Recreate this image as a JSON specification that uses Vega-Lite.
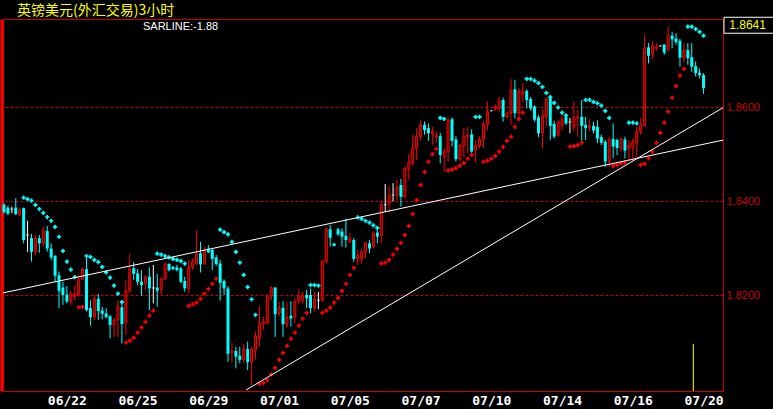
{
"$schema":"https://vega.github.io/schema/vega-lite/v6.json",
"width":720,"height":372,
"autosize":{"type":"none"},
"padding":{"left":3,"top":19,"right":50,"bottom":18},
"background":"#000000",
"config":{"view":{"stroke":"#c80000","strokeWidth":1,"fill":"#000000"}},
"resolve":{"axis":{"x":"independent","y":"independent"}},
"datasets":{
"k":[
{"i":1,"o":1.8393,"h":1.8397,"l":1.8374,"c":1.8377},
{"i":2,"o":1.8387,"h":1.8391,"l":1.8371,"c":1.8374},
{"i":3,"o":1.8384,"h":1.8389,"l":1.8375,"c":1.8384},
{"i":4,"o":1.8387,"h":1.8407,"l":1.8371,"c":1.8373},
{"i":5,"o":1.8371,"h":1.8387,"l":1.8368,"c":1.8382},
{"i":6,"o":1.8386,"h":1.8387,"l":1.8311,"c":1.8318,"s":1.8408},
{"i":7,"o":1.8329,"h":1.8359,"l":1.8293,"c":1.8329,"s":1.8405},
{"i":8,"o":1.8322,"h":1.8331,"l":1.8272,"c":1.8293,"s":1.8402},
{"i":9,"o":1.8293,"h":1.8329,"l":1.8286,"c":1.8322,"s":1.8393},
{"i":10,"o":1.8322,"h":1.8329,"l":1.8291,"c":1.8311,"s":1.8384},
{"i":11,"o":1.8311,"h":1.8346,"l":1.8304,"c":1.8337,"s":1.8376},
{"i":12,"o":1.8337,"h":1.8348,"l":1.8293,"c":1.83,"s":1.8367},
{"i":13,"o":1.83,"h":1.8311,"l":1.8276,"c":1.8281,"s":1.8359},
{"i":14,"o":1.8284,"h":1.8286,"l":1.8229,"c":1.8242,"s":1.8346},
{"i":15,"o":1.8243,"h":1.8251,"l":1.8173,"c":1.821,"s":1.8325},
{"i":16,"o":1.8217,"h":1.8229,"l":1.818,"c":1.8201,"s":1.8295},
{"i":17,"o":1.8202,"h":1.822,"l":1.8183,"c":1.8187,"s":1.8272},
{"i":18,"o":1.8187,"h":1.821,"l":1.818,"c":1.8203,"s":1.8255},
{"i":19,"o":1.8197,"h":1.822,"l":1.819,"c":1.8203,"s":1.8239},
{"i":20,"o":1.8201,"h":1.8243,"l":1.8197,"c":1.8235,"s":1.8175},
{"i":21,"o":1.8235,"h":1.826,"l":1.8233,"c":1.8256,"s":1.8176},
{"i":22,"o":1.8256,"h":1.8286,"l":1.8166,"c":1.8169,"s":1.8284},
{"i":23,"o":1.8173,"h":1.819,"l":1.8136,"c":1.8154,"s":1.8282},
{"i":24,"o":1.8154,"h":1.8201,"l":1.8148,"c":1.8193,"s":1.8276},
{"i":25,"o":1.8193,"h":1.8203,"l":1.8148,"c":1.8167,"s":1.8271},
{"i":26,"o":1.8168,"h":1.8176,"l":1.8149,"c":1.8161,"s":1.8261},
{"i":27,"o":1.8162,"h":1.8173,"l":1.8151,"c":1.8154,"s":1.8249},
{"i":28,"o":1.8156,"h":1.8159,"l":1.8109,"c":1.8137,"s":1.8238},
{"i":29,"o":1.8137,"h":1.8153,"l":1.8112,"c":1.8148,"s":1.8221},
{"i":30,"o":1.8148,"h":1.819,"l":1.8112,"c":1.8177,"s":1.8204},
{"i":31,"o":1.8175,"h":1.8187,"l":1.8098,"c":1.8139,"s":1.8186},
{"i":32,"o":1.8142,"h":1.8233,"l":1.8116,"c":1.821,"s":1.81},
{"i":33,"o":1.821,"h":1.8288,"l":1.8205,"c":1.8256,"s":1.8104},
{"i":34,"o":1.8258,"h":1.8271,"l":1.8233,"c":1.8246,"s":1.811},
{"i":35,"o":1.8247,"h":1.8256,"l":1.8222,"c":1.8229,"s":1.8121},
{"i":36,"o":1.8229,"h":1.8254,"l":1.8199,"c":1.8222,"s":1.8132},
{"i":37,"o":1.8226,"h":1.8243,"l":1.8212,"c":1.824,"s":1.8144},
{"i":38,"o":1.824,"h":1.826,"l":1.8169,"c":1.8215,"s":1.8157},
{"i":39,"o":1.8216,"h":1.8265,"l":1.8183,"c":1.8216,"s":1.8168},
{"i":40,"o":1.8217,"h":1.8246,"l":1.8176,"c":1.821,"s":1.8289},
{"i":41,"o":1.8212,"h":1.8239,"l":1.8201,"c":1.8235,"s":1.8287},
{"i":42,"o":1.8235,"h":1.8269,"l":1.8233,"c":1.8267,"s":1.8284},
{"i":43,"o":1.8267,"h":1.8269,"l":1.8251,"c":1.8254,"s":1.8281},
{"i":44,"o":1.8261,"h":1.8263,"l":1.8254,"c":1.8256,"s":1.8278},
{"i":45,"o":1.826,"h":1.8265,"l":1.8251,"c":1.8254,"s":1.8276},
{"i":46,"o":1.8258,"h":1.8261,"l":1.8226,"c":1.8229,"s":1.8273},
{"i":47,"o":1.8231,"h":1.824,"l":1.8208,"c":1.8215,"s":1.8268},
{"i":48,"o":1.8215,"h":1.8276,"l":1.8205,"c":1.826,"s":1.8178},
{"i":49,"o":1.826,"h":1.8279,"l":1.8254,"c":1.8272,"s":1.8181},
{"i":50,"o":1.8268,"h":1.8339,"l":1.8265,"c":1.8288,"s":1.8185},
{"i":51,"o":1.829,"h":1.8314,"l":1.8249,"c":1.8266,"s":1.8193},
{"i":52,"o":1.8268,"h":1.8303,"l":1.8265,"c":1.8297,"s":1.8204},
{"i":53,"o":1.83,"h":1.8307,"l":1.829,"c":1.8292,"s":1.8214},
{"i":54,"o":1.8297,"h":1.83,"l":1.8254,"c":1.8278,"s":1.8225},
{"i":55,"o":1.8281,"h":1.8286,"l":1.8263,"c":1.8267,"s":1.8236},
{"i":56,"o":1.8268,"h":1.8276,"l":1.8189,"c":1.8227,"s":1.834},
{"i":57,"o":1.8231,"h":1.8234,"l":1.8201,"c":1.8215,"s":1.8335},
{"i":58,"o":1.8215,"h":1.822,"l":1.8059,"c":1.8076,"s":1.833},
{"i":59,"o":1.8079,"h":1.81,"l":1.8057,"c":1.8082,"s":1.8314},
{"i":60,"o":1.8082,"h":1.8091,"l":1.8045,"c":1.807,"s":1.8293},
{"i":61,"o":1.8072,"h":1.8091,"l":1.8056,"c":1.8063,"s":1.827},
{"i":62,"o":1.8063,"h":1.8097,"l":1.8056,"c":1.8086,"s":1.8244},
{"i":63,"o":1.8086,"h":1.8102,"l":1.8041,"c":1.8058,"s":1.8218},
{"i":64,"o":1.8058,"h":1.8091,"l":1.801,"c":1.8086,"s":1.8192},
{"i":65,"o":1.8084,"h":1.8123,"l":1.8064,"c":1.8114,"s":1.8159},
{"i":66,"o":1.8109,"h":1.8178,"l":1.8091,"c":1.8141,"s":1.8012},
{"i":67,"o":1.8139,"h":1.8155,"l":1.8127,"c":1.8143,"s":1.8014},
{"i":68,"o":1.8141,"h":1.8202,"l":1.814,"c":1.8199,"s":1.802},
{"i":69,"o":1.8199,"h":1.8219,"l":1.819,"c":1.8217,"s":1.8032},
{"i":70,"o":1.8217,"h":1.8218,"l":1.8112,"c":1.816,"s":1.8046},
{"i":71,"o":1.8162,"h":1.8187,"l":1.8155,"c":1.8174,"s":1.8063},
{"i":72,"o":1.8174,"h":1.8188,"l":1.8112,"c":1.8139,"s":1.8078},
{"i":73,"o":1.8137,"h":1.8186,"l":1.8131,"c":1.8154,"s":1.8093},
{"i":74,"o":1.8157,"h":1.8188,"l":1.8134,"c":1.8151,"s":1.8108},
{"i":75,"o":1.8154,"h":1.8193,"l":1.8141,"c":1.8186,"s":1.8121},
{"i":76,"o":1.8186,"h":1.8213,"l":1.8183,"c":1.8199,"s":1.8136},
{"i":77,"o":1.819,"h":1.8208,"l":1.8183,"c":1.8199,"s":1.8151},
{"i":78,"o":1.8201,"h":1.8212,"l":1.8173,"c":1.8194,"s":1.8163},
{"i":79,"o":1.8201,"h":1.8215,"l":1.8162,"c":1.8173,"s":1.8222},
{"i":80,"o":1.8173,"h":1.8208,"l":1.8166,"c":1.8192,"s":1.8222},
{"i":81,"o":1.819,"h":1.8208,"l":1.8171,"c":1.819,"s":1.8221},
{"i":82,"o":1.819,"h":1.8276,"l":1.8187,"c":1.8273,"s":1.8163},
{"i":83,"o":1.8272,"h":1.8346,"l":1.8268,"c":1.8341,"s":1.8168},
{"i":84,"o":1.8341,"h":1.835,"l":1.8304,"c":1.8323,"s":1.8174},
{"i":85,"o":1.8311,"h":1.8312,"l":1.8305,"c":1.8305,"s":1.8185},
{"i":86,"o":1.8341,"h":1.8344,"l":1.8327,"c":1.833,"s":1.8195},
{"i":87,"o":1.8336,"h":1.8343,"l":1.8304,"c":1.8325,"s":1.821},
{"i":88,"o":1.8327,"h":1.8364,"l":1.8302,"c":1.8318,"s":1.8225},
{"i":89,"o":1.8314,"h":1.8334,"l":1.8311,"c":1.8322,"s":1.8244},
{"i":90,"o":1.8318,"h":1.8322,"l":1.8272,"c":1.8278,"s":1.8259},
{"i":91,"o":1.8278,"h":1.8297,"l":1.8265,"c":1.8285,"s":1.8366},
{"i":92,"o":1.8278,"h":1.83,"l":1.8268,"c":1.8292,"s":1.8363},
{"i":93,"o":1.8292,"h":1.8314,"l":1.8279,"c":1.8312,"s":1.8359},
{"i":94,"o":1.8311,"h":1.8318,"l":1.829,"c":1.83,"s":1.8355},
{"i":95,"o":1.8304,"h":1.8336,"l":1.83,"c":1.8332,"s":1.8349},
{"i":96,"o":1.8334,"h":1.8348,"l":1.8311,"c":1.8325,"s":1.8344},
{"i":97,"o":1.8327,"h":1.84,"l":1.8311,"c":1.8393,"s":1.8268},
{"i":98,"o":1.8393,"h":1.8437,"l":1.8378,"c":1.8393,"s":1.827},
{"i":99,"o":1.8396,"h":1.8432,"l":1.8378,"c":1.8412,"s":1.8276},
{"i":100,"o":1.8414,"h":1.8439,"l":1.84,"c":1.8414,"s":1.8287},
{"i":101,"o":1.8414,"h":1.8446,"l":1.8403,"c":1.843,"s":1.8299},
{"i":102,"o":1.8435,"h":1.8448,"l":1.8389,"c":1.841,"s":1.8312},
{"i":103,"o":1.841,"h":1.8473,"l":1.8407,"c":1.8471,"s":1.8329},
{"i":104,"o":1.8469,"h":1.8501,"l":1.8446,"c":1.8483,"s":1.8348},
{"i":105,"o":1.8481,"h":1.8542,"l":1.8476,"c":1.8514,"s":1.8373},
{"i":106,"o":1.8513,"h":1.8556,"l":1.8488,"c":1.8539,"s":1.8403},
{"i":107,"o":1.8538,"h":1.8573,"l":1.8531,"c":1.8563,"s":1.8435},
{"i":108,"o":1.8563,"h":1.857,"l":1.8542,"c":1.8552,"s":1.8463},
{"i":109,"o":1.8556,"h":1.8566,"l":1.8529,"c":1.8545,"s":1.8485},
{"i":110,"o":1.8544,"h":1.8559,"l":1.852,"c":1.8549,"s":1.8501},
{"i":111,"o":1.8537,"h":1.8549,"l":1.8524,"c":1.8541,"s":1.8512},
{"i":112,"o":1.8539,"h":1.8546,"l":1.8481,"c":1.8499,"s":1.8578},
{"i":113,"o":1.8495,"h":1.8513,"l":1.8463,"c":1.8506,"s":1.8576},
{"i":114,"o":1.8506,"h":1.858,"l":1.8485,"c":1.8573,"s":1.8466},
{"i":115,"o":1.8575,"h":1.8579,"l":1.8517,"c":1.8529,"s":1.8468},
{"i":116,"o":1.8532,"h":1.8539,"l":1.8485,"c":1.849,"s":1.8471},
{"i":117,"o":1.849,"h":1.8522,"l":1.8485,"c":1.852,"s":1.8476},
{"i":118,"o":1.8519,"h":1.8556,"l":1.8495,"c":1.8539,"s":1.8482},
{"i":119,"o":1.8537,"h":1.8559,"l":1.8503,"c":1.8541,"s":1.8491},
{"i":120,"o":1.8543,"h":1.8554,"l":1.8497,"c":1.8506,"s":1.8499},
{"i":121,"o":1.851,"h":1.8531,"l":1.8483,"c":1.852,"s":1.858},
{"i":122,"o":1.8519,"h":1.8539,"l":1.8513,"c":1.8532,"s":1.858},
{"i":123,"o":1.8532,"h":1.857,"l":1.8513,"c":1.8564,"s":1.8485},
{"i":124,"o":1.8564,"h":1.8612,"l":1.8552,"c":1.8591,"s":1.8487},
{"i":125,"o":1.8593,"h":1.8594,"l":1.8592,"c":1.8593,"s":1.8491},
{"i":126,"o":1.8596,"h":1.8607,"l":1.8593,"c":1.8602,"s":1.8497},
{"i":127,"o":1.8598,"h":1.8623,"l":1.8591,"c":1.8614,"s":1.8506},
{"i":128,"o":1.8616,"h":1.8621,"l":1.857,"c":1.858,"s":1.8516},
{"i":129,"o":1.858,"h":1.859,"l":1.8578,"c":1.8588,"s":1.8529},
{"i":130,"o":1.8588,"h":1.8661,"l":1.8563,"c":1.8637,"s":1.8538},
{"i":131,"o":1.8639,"h":1.8659,"l":1.8577,"c":1.8588,"s":1.8559},
{"i":132,"o":1.8588,"h":1.8642,"l":1.858,"c":1.8634,"s":1.8576},
{"i":133,"o":1.8628,"h":1.8652,"l":1.8612,"c":1.8635,"s":1.8589},
{"i":134,"o":1.8635,"h":1.8639,"l":1.8598,"c":1.8616,"s":1.8661},
{"i":135,"o":1.8618,"h":1.8622,"l":1.8593,"c":1.8598,"s":1.8661},
{"i":136,"o":1.8602,"h":1.8605,"l":1.857,"c":1.8574,"s":1.8657},
{"i":137,"o":1.8579,"h":1.8584,"l":1.8537,"c":1.8545,"s":1.8652},
{"i":138,"o":1.8546,"h":1.8596,"l":1.8513,"c":1.8582,"s":1.8644},
{"i":139,"o":1.8579,"h":1.8622,"l":1.8559,"c":1.8618,"s":1.8631},
{"i":140,"o":1.862,"h":1.8624,"l":1.8531,"c":1.8561,"s":1.8622},
{"i":141,"o":1.8565,"h":1.8572,"l":1.8534,"c":1.8538,"s":1.861},
{"i":142,"o":1.8541,"h":1.8573,"l":1.8538,"c":1.8568,"s":1.86},
{"i":143,"o":1.8563,"h":1.8589,"l":1.8552,"c":1.8575,"s":1.8589},
{"i":144,"o":1.858,"h":1.8586,"l":1.8563,"c":1.8566,"s":1.8583},
{"i":145,"o":1.8569,"h":1.8578,"l":1.8545,"c":1.8569,"s":1.8517},
{"i":146,"o":1.8559,"h":1.8612,"l":1.8549,"c":1.8579,"s":1.8518},
{"i":147,"o":1.8577,"h":1.8595,"l":1.8538,"c":1.858,"s":1.852},
{"i":148,"o":1.858,"h":1.8616,"l":1.8527,"c":1.8561,"s":1.8525},
{"i":149,"o":1.8563,"h":1.858,"l":1.8531,"c":1.8556,"s":1.8616},
{"i":150,"o":1.8558,"h":1.8575,"l":1.8549,"c":1.8561,"s":1.8616},
{"i":151,"o":1.8561,"h":1.857,"l":1.8545,"c":1.8551,"s":1.8612},
{"i":152,"o":1.8559,"h":1.8573,"l":1.8524,"c":1.8534,"s":1.8609},
{"i":153,"o":1.8537,"h":1.8542,"l":1.852,"c":1.8525,"s":1.8604},
{"i":154,"o":1.8527,"h":1.8531,"l":1.8474,"c":1.8485,"s":1.8593},
{"i":155,"o":1.8485,"h":1.8538,"l":1.8474,"c":1.8531,"s":1.8578},
{"i":156,"o":1.8533,"h":1.8566,"l":1.8492,"c":1.8517,"s":1.8476},
{"i":157,"o":1.8531,"h":1.8534,"l":1.8499,"c":1.8514,"s":1.8478},
{"i":158,"o":1.8513,"h":1.8537,"l":1.8506,"c":1.8532,"s":1.8481},
{"i":159,"o":1.8532,"h":1.8538,"l":1.8492,"c":1.8508,"s":1.8483},
{"i":160,"o":1.8513,"h":1.8531,"l":1.8485,"c":1.852,"s":1.8568},
{"i":161,"o":1.8515,"h":1.8534,"l":1.8485,"c":1.8527,"s":1.8568},
{"i":162,"o":1.8525,"h":1.8559,"l":1.8492,"c":1.8549,"s":1.8566},
{"i":163,"o":1.8549,"h":1.8577,"l":1.8542,"c":1.8563,"s":1.8478},
{"i":164,"o":1.8561,"h":1.8754,"l":1.8559,"c":1.8726,"s":1.848},
{"i":165,"o":1.8728,"h":1.8737,"l":1.8694,"c":1.871,"s":1.8492},
{"i":166,"o":1.8712,"h":1.8741,"l":1.8703,"c":1.8731,"s":1.8506},
{"i":167,"o":1.8726,"h":1.8737,"l":1.872,"c":1.8729,"s":1.8525},
{"i":168,"o":1.8731,"h":1.8732,"l":1.873,"c":1.8731,"s":1.8546},
{"i":169,"o":1.8734,"h":1.8734,"l":1.8712,"c":1.8717,"s":1.8568},
{"i":170,"o":1.8724,"h":1.8771,"l":1.8719,"c":1.8753,"s":1.8591},
{"i":171,"o":1.8753,"h":1.8761,"l":1.8726,"c":1.8745,"s":1.8621},
{"i":172,"o":1.8747,"h":1.8758,"l":1.8734,"c":1.8739,"s":1.8646},
{"i":173,"o":1.8742,"h":1.8746,"l":1.8687,"c":1.8706,"s":1.8668},
{"i":174,"o":1.8705,"h":1.8737,"l":1.8695,"c":1.8722,"s":1.8682},
{"i":175,"o":1.8722,"h":1.8737,"l":1.8691,"c":1.8705,"s":1.8772},
{"i":176,"o":1.8707,"h":1.8737,"l":1.8676,"c":1.8687,"s":1.8772},
{"i":177,"o":1.8688,"h":1.8698,"l":1.8666,"c":1.8673,"s":1.8767},
{"i":178,"o":1.8674,"h":1.8683,"l":1.8662,"c":1.8669,"s":1.8761},
{"i":179,"o":1.8669,"h":1.8673,"l":1.8629,"c":1.8641,"s":1.8753}
],
"trend":[
{"x1":0.75,"p1":1.82055,"x2":183.95,"p2":1.85306},
{"x1":62.58,"p1":1.79989,"x2":183.95,"p2":1.85996}
],
"marker":[{"i":176.4,"top":1.8097,"bot":1.79968}],
"last":[{"i":179,"c":1.8641}],
"labels":[{"t":"SARLINE:-1.88"}],
"titles":[{"t":"英镑美元(外汇交易)3小时"}]
},
"layer":[
{"data":{"name":"k"},
 "mark":{"type":"rule","strokeWidth":1},
 "encoding":{
  "x":{"field":"i","type":"quantitative","scale":{"domain":[0.75,183.95],"nice":false,"zero":false,"padding":0},
   "axis":{"values":[17,35,53,71,89,107,125,143,161,179],"labelExpr":"['06/22','06/25','06/29','07/01','07/05','07/07','07/10','07/14','07/16','07/20'][round((datum.value-17)/18)]","domain":false,"ticks":false,"grid":false,"title":null,"labelColor":"#ffffff","labelFont":"DejaVu Sans Mono","labelFontSize":13,"labelFontWeight":"bold","labelPadding":3,"labelFlush":false,"labelOverlap":false}},
  "y":{"field":"l","type":"quantitative","scale":{"domain":[1.79968,1.87883],"nice":false,"zero":false,"padding":0},
   "axis":{"orient":"right","values":[1.82,1.84,1.86],"format":".4f","grid":true,"gridColor":"#c80000","gridOpacity":1,"gridDash":[3,2],"gridWidth":1,"ticks":false,"domain":false,"title":null,"labelColor":"#c80000","labelFont":"Liberation Sans","labelFontSize":11,"labelPadding":3}},
  "y2":{"field":"h"},
  "color":{"condition":[{"test":"datum.c > datum.o","value":"#ff0000"},{"test":"datum.c == datum.o","value":"#ffffff"}],"value":"#00ffff"}
 }},
{"data":{"name":"k"},
 "transform":[{"filter":"datum.c < datum.o"}],
 "mark":{"type":"bar","size":3,"fill":"#00ffff"},
 "encoding":{
  "x":{"field":"i","type":"quantitative","scale":{"domain":[0.75,183.95],"nice":false,"zero":false,"padding":0},"axis":null},
  "y":{"field":"o","type":"quantitative","scale":{"domain":[1.79968,1.87883],"nice":false,"zero":false,"padding":0},"axis":null},
  "y2":{"field":"c"}
 }},
{"data":{"name":"k"},
 "transform":[{"filter":"datum.c > datum.o"}],
 "mark":{"type":"bar","size":2,"fill":"#500000","stroke":"#ff0000","strokeWidth":1},
 "encoding":{
  "x":{"field":"i","type":"quantitative","scale":{"domain":[0.75,183.95],"nice":false,"zero":false,"padding":0},"axis":null},
  "y":{"field":"o","type":"quantitative","scale":{"domain":[1.79968,1.87883],"nice":false,"zero":false,"padding":0},"axis":null},
  "y2":{"field":"c"}
 }},
{"data":{"name":"k"},
 "transform":[{"filter":"datum.c == datum.o"}],
 "mark":{"type":"tick","orient":"horizontal","size":3,"thickness":1,"color":"#ffffff"},
 "encoding":{
  "x":{"field":"i","type":"quantitative","scale":{"domain":[0.75,183.95],"nice":false,"zero":false,"padding":0},"axis":null},
  "y":{"field":"o","type":"quantitative","scale":{"domain":[1.79968,1.87883],"nice":false,"zero":false,"padding":0},"axis":null}
 }},
{"data":{"name":"k"},
 "transform":[{"filter":"isValid(datum.s)"}],
 "mark":{"type":"point","shape":"cross","filled":true,"size":18,"opacity":1},
 "encoding":{
  "x":{"field":"i","type":"quantitative","scale":{"domain":[0.75,183.95],"nice":false,"zero":false,"padding":0},"axis":null},
  "y":{"field":"s","type":"quantitative","scale":{"domain":[1.79968,1.87883],"nice":false,"zero":false,"padding":0},"axis":null},
  "color":{"condition":{"test":"datum.s < (datum.h + datum.l) / 2","value":"#ff0000"},"value":"#00ffff"}
 }},
{"data":{"name":"trend"},
 "mark":{"type":"rule","color":"#ffffff","strokeWidth":1},
 "encoding":{
  "x":{"field":"x1","type":"quantitative","scale":{"domain":[0.75,183.95],"nice":false,"zero":false,"padding":0},"axis":null},
  "x2":{"field":"x2"},
  "y":{"field":"p1","type":"quantitative","scale":{"domain":[1.79968,1.87883],"nice":false,"zero":false,"padding":0},
   "axis":{"orient":"left","domain":true,"domainColor":"#ff0000","domainWidth":3,"offset":1.5,"labels":false,"ticks":false,"grid":false,"title":null}},
  "y2":{"field":"p2"}
 }},
{"data":{"name":"marker"},
 "mark":{"type":"rule","color":"#ffff00","strokeWidth":1},
 "encoding":{
  "x":{"field":"i","type":"quantitative","scale":{"domain":[0.75,183.95],"nice":false,"zero":false,"padding":0},"axis":null},
  "y":{"field":"top","type":"quantitative","scale":{"domain":[1.79968,1.87883],"nice":false,"zero":false,"padding":0},"axis":null},
  "y2":{"field":"bot"}
 }},
{"data":{"name":"last"},
 "mark":{"type":"rect","fill":"#000000","stroke":"#ffffff","strokeWidth":1},
 "encoding":{
  "x":{"datum":184.2,"type":"quantitative","scale":{"domain":[0.75,183.95],"nice":false,"zero":false,"padding":0},"axis":null},
  "x2":{"datum":197.3},
  "y":{"datum":1.8792,"type":"quantitative","scale":{"domain":[1.79968,1.87883],"nice":false,"zero":false,"padding":0},"axis":null},
  "y2":{"datum":1.8758}
 }},
{"data":{"name":"last"},
 "mark":{"type":"text","color":"#ffff00","font":"Liberation Sans","fontSize":12,"align":"center","baseline":"middle"},
 "encoding":{
  "x":{"datum":190.2,"type":"quantitative","scale":{"domain":[0.75,183.95],"nice":false,"zero":false,"padding":0},"axis":null},
  "y":{"datum":1.87755,"type":"quantitative","scale":{"domain":[1.79968,1.87883],"nice":false,"zero":false,"padding":0},"axis":null},
  "text":{"field":"c","type":"quantitative","format":".4f"}
 }},
{"data":{"name":"labels"},
 "mark":{"type":"text","color":"#ffffff","font":"Liberation Sans","fontSize":11,"align":"left","baseline":"alphabetic"},
 "encoding":{
  "x":{"datum":36.37,"type":"quantitative","scale":{"domain":[0.75,183.95],"nice":false,"zero":false,"padding":0},"axis":null},
  "y":{"datum":1.87649,"type":"quantitative","scale":{"domain":[1.79968,1.87883],"nice":false,"zero":false,"padding":0},"axis":null},
  "text":{"field":"t","type":"nominal"}
 }},
{"data":{"name":"titles"},
 "mark":{"type":"text","color":"#ffff00","font":"Noto Sans CJK SC","fontSize":14,"align":"left","baseline":"middle"},
 "encoding":{
  "x":{"datum":4.31,"type":"quantitative","scale":{"domain":[0.75,183.95],"nice":false,"zero":false,"padding":0},"axis":null},
  "y":{"datum":1.88053,"type":"quantitative","scale":{"domain":[1.79968,1.87883],"nice":false,"zero":false,"padding":0},"axis":null},
  "text":{"field":"t","type":"nominal"}
 }}
]
}
